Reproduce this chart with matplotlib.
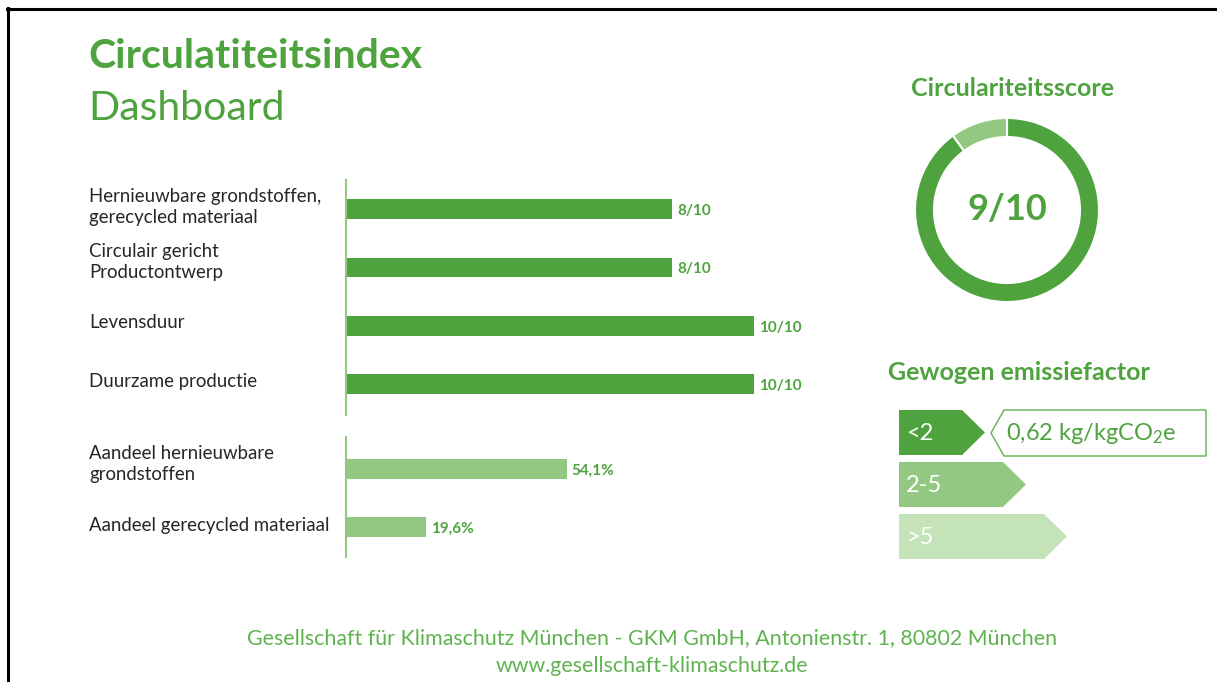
import matplotlib
matplotlib.use("Agg")
import matplotlib.pyplot as plt
from matplotlib.patches import Polygon
from matplotlib.lines import Line2D
from matplotlib.transforms import blended_transform_factory

# ---- data -------------------------------------------------------------
score_labels = [
    "Hernieuwbare grondstoffen,\ngerecycled materiaal",
    "Circulair gericht\nProductontwerp",
    "Levensduur",
    "Duurzame productie",
]
score_values = [8, 8, 10, 10]
score_max = 10

share_labels = [
    "Aandeel hernieuwbare\ngrondstoffen",
    "Aandeel gerecycled materiaal",
]
share_values = [54.1, 19.6]

total_score = 9
emission_classes = ["<2", "2-5", ">5"]
emission_value = "0,62"
emission_unit = "kg/kgCO$_2$e"

DARK = "#4ea33f"
LIGHT = "#93c883"
PALE = "#c4e3b8"
TEXT = "#262626"
FOOT = "#5eb34e"

plt.rcParams["font.family"] = ["Lato", "DejaVu Sans"]
plt.rcParams["mathtext.fontset"] = "custom"
plt.rcParams["mathtext.rm"] = "Lato"
plt.rcParams["mathtext.it"] = "Lato"

W, H = 1217, 682
fig = plt.figure(figsize=(W / 100, H / 100), dpi=100)


def px_axes(x0, y0, x1, y1):
    # axes rectangle from pixel box (origin top-left)
    return fig.add_axes([x0 / W, 1 - y1 / H, (x1 - x0) / W, (y1 - y0) / H])


# ---- overlay for decoration ------------------------------------------
deco = px_axes(0, 0, W, H)
deco.set_xlim(0, W)
deco.set_ylim(H, 0)
deco.axis("off")
deco.add_line(Line2D([7, W], [9, 9], color="black", lw=2.2))
deco.add_line(Line2D([8, 8], [8, H], color="black", lw=2.2))

fig.text(88 / W, 1 - 68 / H, "Circulatiteitsindex", color=DARK, fontsize=29.5,
         fontweight="bold", va="baseline")
fig.text(88 / W, 1 - 120 / H, "Dashboard", color=DARK, fontsize=29.5,
         va="baseline")

# ---- score bars ------------------------------------------------------
ax1 = px_axes(346, 180, 856, 415)
ypos = list(range(len(score_values)))
ax1.barh(ypos, score_values, height=0.34, color=DARK)
ax1.set_xlim(0, score_max * 1.25)
ax1.set_ylim(3.53, -0.5)
for y, v in zip(ypos, score_values):
    ax1.text(v + 0.12, y + 0.03, f"{v}/{score_max}", color=DARK, fontsize=11,
             fontweight="bold", va="center")
tr1 = blended_transform_factory(fig.transFigure, ax1.transData)
label_shift = [-0.04, -0.1, -0.05, -0.05]
for y, lab, s in zip(ypos, score_labels, label_shift):
    fig.text(89 / W, y + s, lab, transform=tr1, color=TEXT, fontsize=13.4,
             va="center", linespacing=1.3)

ax2 = px_axes(346, 437, 856, 557)
ypos2 = list(range(len(share_values)))
ax2.barh(ypos2, share_values, height=0.34, color=LIGHT)
ax2.set_xlim(0, 125)
ax2.set_ylim(1.52, -0.55)
for y, v in zip(ypos2, share_values):
    ax2.text(v + 1.2, y + 0.03, f"{v:.1f}%".replace(".", ","), color=DARK,
             fontsize=11, fontweight="bold", va="center")
tr2 = blended_transform_factory(fig.transFigure, ax2.transData)
for y, lab, s in zip(ypos2, share_labels, [-0.08, -0.02]):
    fig.text(89 / W, y + s, lab, transform=tr2, color=TEXT, fontsize=13.4,
             va="center", linespacing=1.3)

for ax in (ax1, ax2):
    for sp in ("top", "right", "bottom"):
        ax.spines[sp].set_visible(False)
    ax.spines["left"].set_color(LIGHT)
    ax.spines["left"].set_linewidth(1.5)
    ax.set_xticks([])
    ax.set_yticks([])
    ax.patch.set_alpha(0)

# ---- donut ----------------------------------------------------------
fig.text(1012 / W, 1 - 88 / H, "Circulariteitsscore", color=DARK, fontsize=18,
         fontweight="bold", ha="center", va="center")
axd = px_axes(907, 110, 1107, 310)
axd.pie([total_score, score_max - total_score], colors=[DARK, LIGHT],
        startangle=90, counterclock=False, radius=1,
        wedgeprops=dict(width=19 / 92, edgecolor="white", linewidth=1.5))
lim = 100 / 92
axd.set_xlim(-lim, lim)
axd.set_ylim(-lim, lim)
axd.set_aspect("equal")
axd.text(0, 0, f"{total_score}/{score_max}", color=DARK, fontsize=26,
         fontweight="bold", ha="center", va="center")

# ---- emission factor -------------------------------------------------
fig.text(888 / W, 1 - 373 / H, "Gewogen emissiefactor", color=DARK,
         fontsize=18, fontweight="bold", va="center")
cls_colors = [DARK, LIGHT, PALE]
for i, (lab, col) in enumerate(zip(emission_classes, cls_colors)):
    top = 410 + i * 52
    bot = top + 45
    right = 962 + i * 41
    deco.add_patch(Polygon([(899, top), (right, top), (right + 23, (top + bot) / 2),
                            (right, bot), (899, bot)], closed=True,
                           facecolor=col, edgecolor="none"))
    deco.text(906, (top + bot) / 2 + 1, lab, color="white", fontsize=17,
              va="center")
deco.add_patch(Polygon([(991, 433), (1004, 410), (1206, 410), (1206, 456),
                        (1004, 456)], closed=True, facecolor="white",
                       edgecolor=FOOT, linewidth=1.0))
deco.text(1006, 433, f"{emission_value} {emission_unit}", color=DARK,
          fontsize=17, va="center")

# ---- footer ---------------------------------------------------------
fig.text(652 / W, 1 - 638 / H,
         "Gesellschaft für Klimaschutz München - GKM GmbH, Antonienstr. 1, 80802 München",
         color=FOOT, fontsize=15.4, ha="center", va="center")
fig.text(652 / W, 1 - 666 / H, "www.gesellschaft-klimaschutz.de",
         color=FOOT, fontsize=15.4, ha="center", va="center")

fig.savefig("out.png", dpi=100)
